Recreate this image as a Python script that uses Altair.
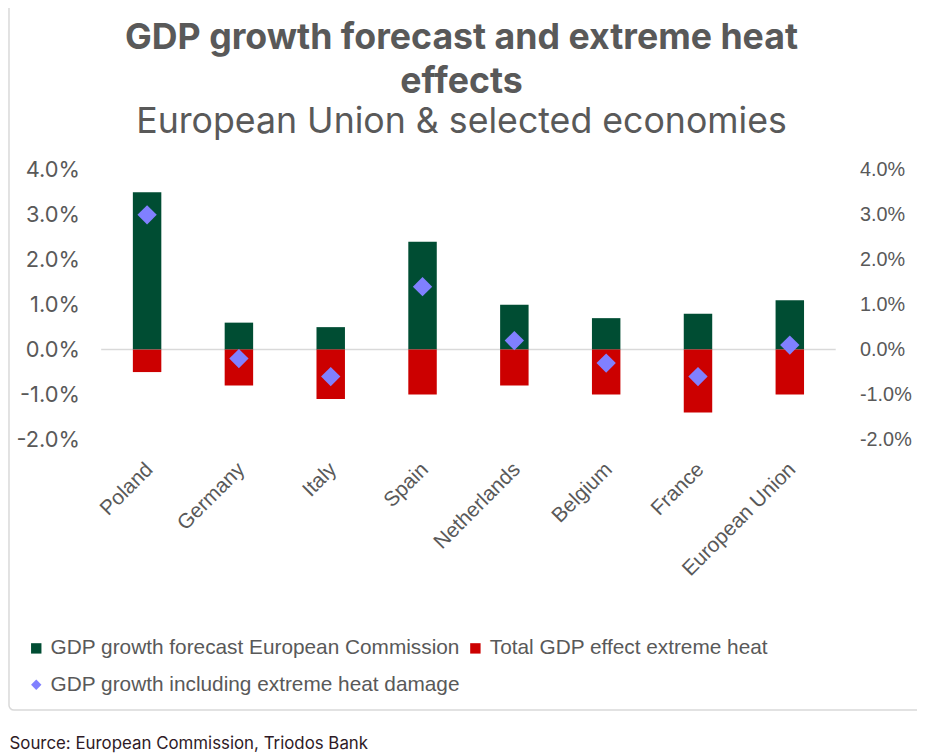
import altair as alt
import pandas as pd

countries = ["Poland", "Germany", "Italy", "Spain", "Netherlands", "Belgium", "France", "European Union"]
forecast = [3.5, 0.6, 0.5, 2.4, 1.0, 0.7, 0.8, 1.1]
heat_effect = [-0.5, -0.8, -1.1, -1.0, -0.8, -1.0, -1.4, -1.0]
incl_heat = [3.0, -0.2, -0.6, 1.4, 0.2, -0.3, -0.6, 0.1]

series_names = [
    "GDP growth forecast European Commission",
    "Total GDP effect extreme heat",
    "GDP growth including extreme heat damage",
]
series_colors = ["#004D33", "#CC0000", "#8080FF"]
series_shapes = ["square", "square", "diamond"]
y_ticks = [-2, -1, 0, 1, 2, 3, 4]

bars_df = pd.DataFrame({
    "country": countries * 2,
    "value": forecast + heat_effect,
    "series": [series_names[0]] * len(countries) + [series_names[1]] * len(countries),
})
pts_df = pd.DataFrame({
    "country": countries,
    "value": incl_heat,
    "series": [series_names[2]] * len(countries),
})

W, H = 741, 272
GRAY = "#595959"
PCT = "(datum.value < 0 ? '-' : '') + format(abs(datum.value), '.1f') + '%'"

color_scale = alt.Scale(domain=series_names, range=series_colors)
shape_scale = alt.Scale(domain=series_names, range=series_shapes)
legend = alt.Legend(
    title=None, orient="none", legendX=-76, legendY=472, columns=2, direction="horizontal",
    columnPadding=4, rowPadding=15, labelFont="Liberation Sans", labelFontSize=21,
    labelColor=GRAY, labelLimit=600, symbolSize=110, symbolStrokeWidth=0, padding=0,
)

y_scale = alt.Scale(domain=[-2, 4], nice=False, zero=False)

x_enc = alt.X(
    "country:N", sort=countries,
    scale=alt.Scale(paddingInner=0.69, paddingOuter=0.345),
    axis=alt.Axis(
        title="Source: European Commission, Triodos Bank",
        titleFont="Inter", titleFontSize=17, titleFontWeight="normal", titleColor="#2E1A26",
        titleX=-93, titleY=307, titleAlign="left", titleAnchor="start", titleBaseline="middle",
        labelAngle=-45, labelFont="Liberation Sans", labelFontSize=21, labelColor=GRAY,
        labelPadding=19, labelOffset=-5, ticks=False, domain=False,
    ),
)

frame = alt.Chart(pd.DataFrame({"f": [0]})).mark_rect(
    fill="white", fillOpacity=0, stroke="#D9D9D9", strokeWidth=1.5, cornerRadius=5, clip=False
).encode(
    x=alt.value(-93), x2=alt.value(W + 100), y=alt.value(-175), y2=alt.value(545)
)

zero_rule = alt.Chart(pd.DataFrame({"v": [0]})).mark_rule(color="#D9D9D9", strokeWidth=1.5).encode(
    y=alt.Y("v:Q", scale=y_scale, axis=None)
)

bars = alt.Chart(bars_df).mark_bar().encode(
    x=x_enc,
    y=alt.Y(
        "value:Q", stack=None, scale=y_scale,
        axis=alt.Axis(
            orient="left", values=y_ticks, labelExpr=PCT,
            title=None, grid=False, ticks=False, domain=False,
            labelFont="Inter", labelFontSize=22, labelColor=GRAY, labelPadding=22,
        ),
    ),
    color=alt.Color("series:N", scale=color_scale, legend=legend),
)

points = alt.Chart(pts_df).mark_point(filled=True, opacity=1, size=380).encode(
    x=alt.X("country:N", sort=countries),
    y=alt.Y(
        "value:Q", scale=y_scale,
        axis=alt.Axis(
            orient="right", values=y_ticks, labelExpr=PCT,
            title=None, grid=False, ticks=False, domain=False,
            labelFont="Liberation Sans", labelFontSize=20, labelColor=GRAY, labelPadding=24,
        ),
    ),
    color=alt.Color("series:N", scale=color_scale, legend=legend),
    shape=alt.Shape("series:N", scale=shape_scale, legend=legend),
)

chart = alt.layer(frame, zero_rule, bars, points).resolve_scale(
    y="independent"
).properties(
    width=W, height=H,
    autosize="none",
    background="white",
    padding={"left": 94, "top": 160, "right": 82, "bottom": 313},
    title=alt.TitleParams(
        text=["GDP growth forecast and extreme heat", "effects"],
        subtitle="European Union & selected economies",
        font="Inter", fontSize=36, fontWeight="bold", color=GRAY, lineHeight=44,
        subtitleFont="Inter", subtitleFontSize=36, subtitleColor=GRAY, subtitlePadding=5,
        anchor="middle", dx=-7, offset=-147,
    ),
).configure_view(strokeWidth=0)

chart.save("out.html", embed_options={"renderer": "svg", "actions": False})
